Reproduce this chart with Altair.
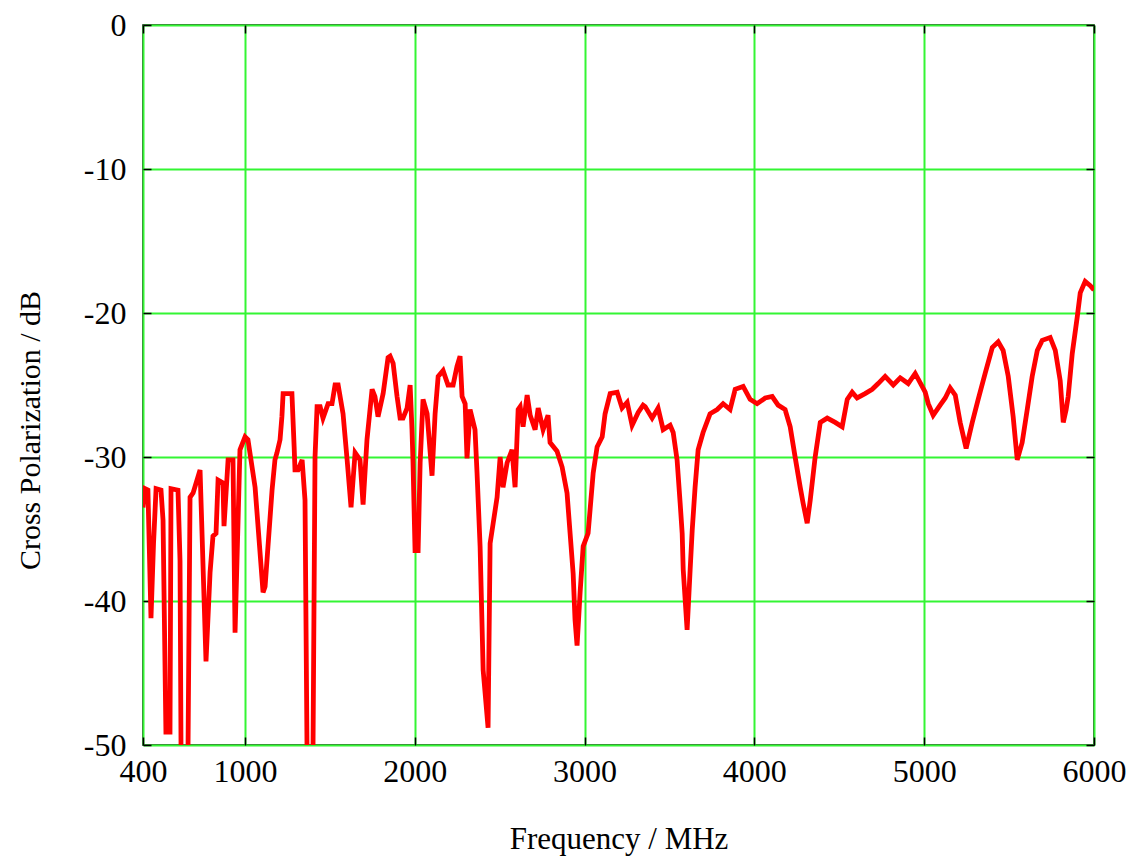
import altair as alt
import pandas as pd

freq_mhz = [
    400, 412, 429, 447, 462, 477, 506, 518, 535, 559, 565, 606, 618, 624, 665, 677, 695, 736,
    771, 795, 812, 830, 842, 871, 877, 901, 930, 942, 971, 1001, 1018, 1060, 1107,
    1119, 1136, 1160, 1177, 1189, 1207, 1218, 1225, 1277, 1290, 1295, 1313, 1337, 1354, 1366,
    1401, 1413, 1425, 1443, 1460, 1490, 1513, 1531, 1549, 1578, 1602, 1625, 1649, 1678, 1696,
    1719, 1749, 1766, 1784, 1814, 1843, 1855, 1873, 1896, 1914, 1931, 1955, 1973, 1984, 1990,
    2002, 2020, 2032, 2049, 2073, 2102, 2120, 2138, 2167, 2196, 2226, 2249, 2267, 2279, 2297,
    2308, 2326, 2355, 2367, 2385, 2403, 2432, 2444, 2462, 2485, 2503, 2520, 2544, 2573, 2591,
    2609, 2621, 2638, 2662, 2680, 2709, 2727, 2756, 2785, 2797, 2838, 2868, 2897, 2915, 2933,
    2944, 2956, 2974, 2992, 3021, 3051, 3074, 3104, 3121, 3151, 3192, 3221, 3251, 3280, 3316,
    3345, 3357, 3398, 3433, 3463, 3504, 3522, 3545, 3563, 3575, 3581, 3604, 3622, 3634, 3651,
    3669, 3698, 3739, 3781, 3816, 3857, 3887, 3934, 3975, 4016, 4064, 4105, 4140, 4181, 4211,
    4240, 4270, 4287, 4311, 4329, 4358, 4388, 4429, 4476, 4517, 4547, 4576, 4605, 4652, 4694,
    4729, 4770, 4818, 4859, 4906, 4947, 4988, 5006, 5024, 5053, 5094, 5124, 5153, 5183, 5212,
    5247, 5283, 5318, 5359, 5401, 5436, 5465, 5495, 5524, 5548, 5577, 5607, 5636, 5666, 5695,
    5742, 5772, 5801, 5819, 5836, 5848, 5872, 5901, 5919, 5948, 5978, 6000,
]
cross_pol_db = [
    -33.5, -32.2, -32.3, -41.2, -36.0, -32.2, -32.3, -34.4, -49.1, -49.1, -32.2, -32.3, -37.2, -50.5, -50.5, -32.8, -32.5, -30.9,
    -44.2, -38.0, -35.5, -35.3, -31.6, -31.8, -34.8, -30.2, -30.2, -42.2, -29.5, -28.6, -28.8, -32.1, -39.4,
    -39.0, -36.2, -32.3, -30.2, -29.7, -28.8, -27.2, -25.6, -25.6, -29.3, -30.9, -30.9, -30.2, -33.0, -50.5,
    -50.5, -30.0, -26.5, -26.5, -27.3, -26.3, -26.3, -25.0, -25.0, -27.0, -30.2, -33.5, -29.7, -30.2, -33.3,
    -28.8, -25.3, -25.8, -27.2, -25.6, -23.1, -23.0, -23.5, -25.8, -27.3, -27.3, -26.6, -25.0, -28.1, -30.4,
    -36.5, -36.5, -30.4, -26.0, -27.0, -31.3, -27.0, -24.4, -24.0, -25.0, -25.0, -23.7, -23.0, -25.8, -26.3,
    -30.1, -26.7, -28.1, -31.1, -36.2, -44.8, -48.8, -36.0, -34.6, -32.8, -30.0, -32.1, -30.4, -29.5, -32.1,
    -26.7, -26.5, -27.9, -25.7, -27.1, -28.1, -26.6, -28.1, -27.1, -29.0, -29.6, -30.7, -32.5, -35.3, -38.1,
    -41.3, -43.1, -39.4, -36.2, -35.3, -31.1, -29.3, -28.6, -27.0, -25.6, -25.5, -26.6, -26.2, -27.8, -26.9,
    -26.4, -26.5, -27.3, -26.6, -28.1, -27.8, -28.3, -30.2, -33.2, -35.3, -37.8, -42.0, -37.8, -35.1, -32.1,
    -29.5, -28.3, -27.0, -26.7, -26.3, -26.7, -25.3, -25.1, -26.0, -26.3, -25.9, -25.8, -26.4, -26.7, -27.9,
    -30.0, -32.1, -33.2, -34.6, -33.0, -30.0, -27.6, -27.3, -27.6, -27.9, -26.0, -25.5, -25.9, -25.6, -25.3,
    -24.9, -24.4, -25.0, -24.5, -24.9, -24.2, -25.1, -25.5, -26.3, -27.1, -26.4, -25.9, -25.2, -25.7, -27.6,
    -29.4, -27.6, -26.0, -24.2, -22.4, -22.0, -22.6, -24.4, -27.2, -30.2, -29.0, -26.7, -24.4, -22.6, -21.9,
    -21.7, -22.6, -24.7, -27.6, -26.7, -25.8, -22.8, -20.3, -18.6, -17.8, -18.1, -18.4,
]

x_ticks = [400, 1000, 2000, 3000, 4000, 5000, 6000]
y_ticks = [0, -10, -20, -30, -40, -50]

df = pd.DataFrame({"f": freq_mhz, "db": cross_pol_db})

FONT = "Liberation Serif"
GRID = "#33f533"
LABEL_EXPR = "'' + datum.value"
xs = alt.Scale(domain=[400, 6000], nice=False, zero=False)
ys = alt.Scale(domain=[-50, 0], nice=False, zero=False)

base = alt.Chart(df)

main_axes = base.mark_line(opacity=0).encode(
    x=alt.X("f:Q", scale=xs, axis=alt.Axis(
        orient="bottom", values=x_ticks, ticks=False, domain=False, labelExpr=LABEL_EXPR,
        grid=True, gridColor=GRID, gridWidth=2, labelFont=FONT, labelFontSize=32,
        labelColor="#000", labelPadding=11, labelFlush=False,
        title="Frequency / MHz", titleFont=FONT, titleFontSize=31,
        titleFontWeight="normal", titleColor="#000", titleY=94, titleBaseline="middle")),
    y=alt.Y("db:Q", scale=ys, axis=alt.Axis(
        orient="left", values=y_ticks, ticks=False, domain=False, labelExpr=LABEL_EXPR,
        grid=True, gridColor=GRID, gridWidth=2, labelFont=FONT, labelFontSize=32,
        labelColor="#000", labelPadding=17, labelFlush=False,
        title="Cross Polarization / dB", titleFont=FONT, titleFontSize=30,
        titleFontWeight="normal", titleColor="#000", titleX=-113, titleY=405,
        titleAngle=-90, titleBaseline="middle", titleAlign="center")),
)

tick_axis = dict(labels=False, domain=False, grid=False, ticks=True, tickSize=8,
                 offset=-8, tickColor="#000", tickWidth=1.5, title=None)

ticks_bl = base.mark_line(opacity=0).encode(
    x=alt.X("f:Q", scale=xs, axis=alt.Axis(orient="bottom", values=x_ticks, **tick_axis)),
    y=alt.Y("db:Q", scale=ys, axis=alt.Axis(orient="left", values=y_ticks, **tick_axis)),
)

curve = base.mark_line(color="#ff0000", strokeWidth=4.8, clip=True).encode(
    x=alt.X("f:Q", scale=xs, axis=alt.Axis(orient="top", values=x_ticks, **tick_axis)),
    y=alt.Y("db:Q", scale=ys, axis=alt.Axis(orient="right", values=y_ticks, **tick_axis)),
)

chart = alt.layer(main_axes, ticks_bl, curve).resolve_axis(
    x="independent", y="independent"
).properties(
    width=951, height=720,
    autosize=alt.AutoSizeParams(type="none"),
    padding={"left": 143, "top": 25, "right": 47, "bottom": 115},
    background="white",
).configure_view(stroke="#000", strokeWidth=1.5)

chart.save("out.html", embed_options={"renderer": "svg", "actions": False})
